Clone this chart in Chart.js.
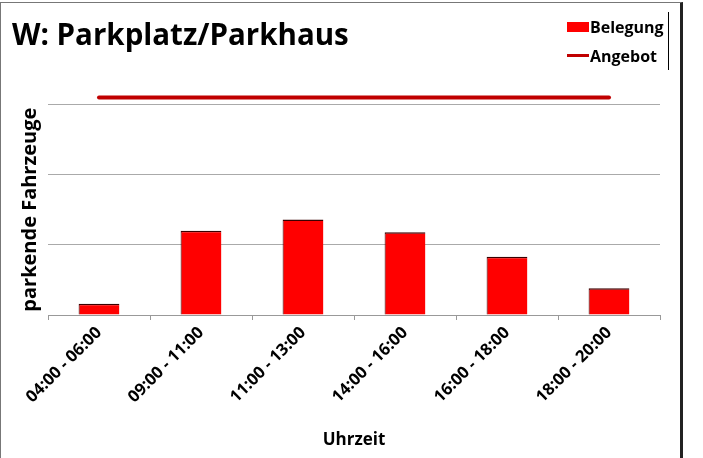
<!DOCTYPE html>
<html>
<head>
<meta charset="utf-8">
<script src="https://cdn.jsdelivr.net/npm/chart.js@4"></script>
<style>
  body { margin: 0; background: #fff; }
  #wrap { position: relative; width: 703px; height: 458px; }
  #frame {
    position: absolute; left: 0; top: 2px; width: 679px; height: 470px;
    border-left: 1px solid #777; border-top: 1px solid #777; border-right: 3px solid #222;
    pointer-events: none;
  }
  #legend {
    position: absolute; left: 567px; top: 12px; width: 101px; height: 58px;
    border-right: 1px solid #000;
    font-family: "Open Sans", sans-serif; font-weight: bold; font-size: 16px; color: #000;
  }
  .item { display: flex; align-items: center; height: 29px; }
  .sym { width: 22px; height: 10px; margin-right: 1px; }
</style>
</head>
<body>
<div id="wrap">
  <canvas id="chart" width="703" height="458"></canvas>
  <div id="frame"></div>
  <div id="legend"></div>
</div>
<script>
// ==============================
// DATEN
// ==============================
const uhrzeit = ['04:00 - 06:00', '09:00 - 11:00', '11:00 - 13:00', '14:00 - 16:00', '16:00 - 18:00', '18:00 - 20:00'];
const belegung = [1.6, 12.0, 13.6, 11.8, 8.3, 3.8];
const angebot = [31, 31, 31, 31, 31, 31];
const yMax = 30;
const yStep = 10;

const fontFamily = '"Open Sans", sans-serif';

const chart = new Chart(document.getElementById('chart'), {
    type: 'bar',
    data: {
        labels: uhrzeit,
        datasets: [
            {
                type: 'line',
                label: 'Angebot',
                data: angebot,
                borderColor: '#c00000',
                backgroundColor: '#c00000',
                borderWidth: 4,
                borderCapStyle: 'round',
                pointRadius: 0,
                clip: false,
                order: 0
            },
            {
                label: 'Belegung',
                data: belegung,
                backgroundColor: '#ff0000',
                borderColor: '#3a0000',
                borderWidth: { top: 1.5, left: 1, right: 0, bottom: 0 },
                borderSkipped: false,
                barPercentage: 0.4,
                categoryPercentage: 1,
                order: 1
            }
        ]
    },
    options: {
        responsive: false,
        animation: false,
        layout: { padding: { left: 12, right: 43, top: 0, bottom: 0 } },
        plugins: {
            legend: { display: false },
            tooltip: { enabled: false },
            title: {
                display: true,
                text: 'W: Parkplatz/Parkhaus',
                align: 'start',
                color: '#000',
                font: { family: fontFamily, size: 29.5, weight: 'bold' },
                padding: { top: 19, bottom: 50 }
            }
        },
        scales: {
            x: {
                afterFit: s => { s.height = 143; },
                grid: { drawOnChartArea: false, drawTicks: true, tickLength: 5, color: '#999' },
                border: { color: '#999' },
                ticks: {
                    minRotation: 45, maxRotation: 45,
                    color: '#000',
                    font: { family: fontFamily, size: 16.5, weight: 'bold' }
                },
                title: {
                    display: true, text: 'Uhrzeit', color: '#000',
                    font: { family: fontFamily, size: 17, weight: 'bold' },
                    padding: { top: 0, bottom: 8 }
                }
            },
            y: {
                min: 0, max: yMax,
                afterFit: s => { s.width = 36; },
                ticks: { display: false, stepSize: yStep },
                grid: { color: '#aaa', drawTicks: false },
                border: { display: false },
                title: {
                    display: true, text: 'parkende Fahrzeuge', color: '#000',
                    font: { family: fontFamily, size: 20, weight: 'bold' },
                    padding: { top: 6, bottom: 4 }
                }
            }
        }
    }
});

// ==============================
// LEGENDE
// ==============================
const legend = document.getElementById('legend');
['Belegung', 'Angebot'].forEach(name => {
    const ds = chart.data.datasets.find(d => d.label === name);
    const item = document.createElement('div');
    item.className = 'item';
    const sym = document.createElement('span');
    sym.className = 'sym';
    if (ds.type === 'line') {
        sym.style.height = '3px';
        sym.style.background = ds.borderColor;
    } else {
        sym.style.background = ds.backgroundColor;
    }
    item.appendChild(sym);
    item.appendChild(document.createTextNode(name));
    legend.appendChild(item);
});
</script>
</body>
</html>
